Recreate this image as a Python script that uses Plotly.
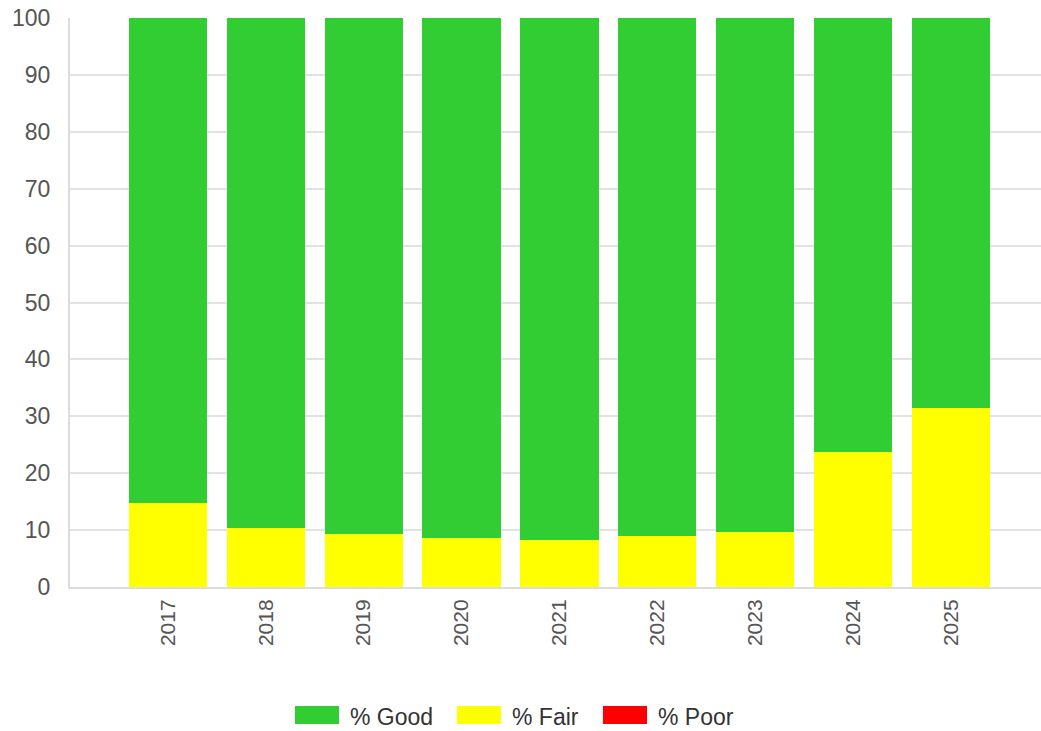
import plotly.graph_objects as go

years = ["2017", "2018", "2019", "2020", "2021", "2022", "2023", "2024", "2025"]
fair = [14.7, 10.4, 9.3, 8.7, 8.3, 9.0, 9.6, 23.7, 31.4]
poor = [0, 0, 0, 0, 0, 0, 0, 0, 0]
good = [round(100 - f - p, 1) for f, p in zip(fair, poor)]
y_ticks = [0, 10, 20, 30, 40, 50, 60, 70, 80, 90, 100]

series_names = ["% Good", "% Fair", "% Poor"]
series_colors = ["#32CD32", "#FFFF00", "#FF0000"]

FONT = "Liberation Sans, Arial, sans-serif"

# Figure geometry (body margin removed by post_script)
W, H = 1041, 731
ML, MR, MT, MB = 70, 0, 18, 144
PW, PH = W - ML - MR, H - MT - MB


def px(x):
    return (x - ML) / PW


def py(y):
    return 1 - (y - MT) / PH


fig = go.Figure()
series_vals = {"% Good": good, "% Fair": fair, "% Poor": poor}
# stack order: Fair at bottom, then Good, then Poor
for name in ["% Fair", "% Good", "% Poor"]:
    color = series_colors[series_names.index(name)]
    fig.add_trace(go.Bar(x=years, y=series_vals[name], name=name,
                         marker=dict(color=color, line=dict(width=0)),
                         showlegend=False))

# Custom legend (large swatches like the reference)
swatch_left = [295, 457, 603]
swatch_w, swatch_top, swatch_bot = 44, 706, 724
shapes = []
annotations = []
for name, color, sx in zip(series_names, series_colors, swatch_left):
    shapes.append(dict(type="rect", xref="paper", yref="paper",
                       x0=px(sx), x1=px(sx + swatch_w),
                       y0=py(swatch_bot), y1=py(swatch_top),
                       fillcolor=color, line=dict(width=0), layer="above"))
    annotations.append(dict(xref="paper", yref="paper",
                            x=px(sx + swatch_w + 9), y=py(717),
                            xanchor="left", yanchor="middle",
                            text=name, showarrow=False,
                            font=dict(size=23, color="#333", family=FONT)))

fig.update_layout(
    barmode="stack",
    bargap=0.2,
    width=W,
    height=H,
    margin=dict(l=ML, r=MR, t=MT, b=MB, pad=0, autoexpand=False),
    plot_bgcolor="white",
    paper_bgcolor="white",
    font=dict(family=FONT, size=20, color="#555"),
    showlegend=False,
    hovermode=False,
    shapes=shapes,
    annotations=annotations,
    xaxis=dict(
        type="category",
        range=[-1.0, 8.92],
        tickangle=-90,
        tickfont=dict(size=21, color="#555"),
        showgrid=False,
        showline=True,
        linecolor="#dcdcdc",
        linewidth=2,
        ticks="",
        ticklabelstandoff=2,
        automargin=False,
    ),
    yaxis=dict(
        range=[0, 100],
        tickvals=y_ticks,
        tickfont=dict(size=23, color="#555"),
        showgrid=True,
        gridcolor="#e2e2e2",
        gridwidth=2,
        showline=True,
        linecolor="#dcdcdc",
        linewidth=2,
        zeroline=False,
        ticks="",
        ticklabelstandoff=13,
        ticklabeloverflow="allow",
        automargin=False,
    ),
)

fig.write_html("out.html", config={"displayModeBar": False},
               post_script="document.body.style.margin='0px';")
